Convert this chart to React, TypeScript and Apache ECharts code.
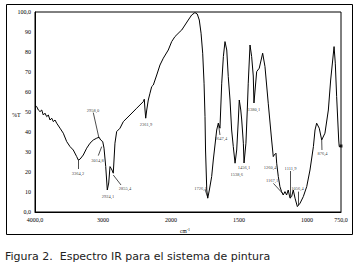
import { useEffect, useRef } from "react";
import * as echarts from "echarts";

// IR spectrum: wavenumber (cm-1) and transmittance (%T)
const waveNumbers = [
  4000, 3975, 3951, 3926, 3901, 3878, 3853, 3828, 3804, 3779,
  3754, 3731, 3706, 3681, 3632, 3584, 3534, 3485, 3437, 3387,
  3363, 3338, 3290, 3240, 3191, 3143, 3093, 3059, 3034, 3004,
  2985, 2960, 2937, 2916, 2897, 2882, 2868, 2849, 2824, 2799,
  2750, 2701, 2603, 2504, 2407, 2393, 2382, 2372, 2357, 2334,
  2309, 2284, 2260, 2210, 2162, 2113, 2040, 1995, 1971, 1934,
  1921, 1897, 1873, 1848, 1824, 1807, 1792, 1779, 1767, 1757,
  1750, 1746, 1737, 1730, 1718, 1701, 1689, 1664, 1652, 1640,
  1627, 1615, 1603, 1590, 1579, 1566, 1554, 1542, 1529, 1517,
  1505, 1498, 1487, 1480, 1468, 1463, 1449, 1439, 1432, 1419,
  1407, 1395, 1390, 1370, 1351, 1326, 1309, 1285, 1260, 1248,
  1241, 1228, 1223, 1211, 1199, 1187, 1175, 1162, 1150, 1138,
  1125, 1113, 1101, 1088, 1071, 1051, 1027, 1002, 978, 953,
  941, 929, 910, 892, 868, 843, 826, 811, 801, 792,
  782, 767, 763, 750,
];
const transmittance = [
  53.5, 52.7, 51, 50.2, 51, 48.5, 49.4, 47.7, 48.5, 46,
  46.9, 45.2, 46, 44.4, 41.9, 39.4, 35.2, 32.7, 31, 27.7,
  26, 26.4, 28.5, 31.9, 34.4, 36, 36.9, 37.4, 36, 35.2,
  31.9, 22.7, 11, 14.5, 22.7, 21.9, 21, 19.4, 34.4, 40.2,
  41.9, 45.2, 48.5, 51.9, 55.2, 56.4, 51, 46.9, 51, 56,
  59.4, 62.7, 63.5, 68.5, 73.5, 76.9, 81, 85.2, 87.7, 90.2,
  91, 93.5, 96, 98.5, 99.7, 99, 96, 89.4, 79.4, 64.4,
  47.7, 31, 11, 6.9, 11, 17.7, 26, 41, 44.4, 41.9,
  64.4, 77.7, 85.2, 81, 67.7, 56, 41, 32.7, 24.4, 31,
  46, 56, 51, 46, 34.4, 24.5, 34.4, 51, 64.4, 83.5,
  77.7, 68, 54.5, 70.2, 71.9, 79.4, 72.7, 54.4, 36, 27.7,
  28.5, 29.4, 24.4, 17.7, 12.7, 10.2, 8.5, 10.2, 8.5, 11,
  6.9, 7.7, 11, 6.9, 2.7, 4.4, 7.7, 12.7, 21, 32.7,
  41, 44.4, 41.9, 36, 39.4, 51, 66, 76, 82.7, 74.4,
  57.7, 36, 32.7, 33,
];

// Axis ticks
const xTickWaves = [4000, 3000, 2000, 1500, 1000, 750];
const xTickLabels = ["4000,0", "3000", "2000", "1500", "1000", "750,0"];
const yTickValues = [0, 10, 20, 30, 40, 50, 60, 70, 80, 90, 100];
const yTickLabels = ["0,0", "10", "20", "30", "40", "50", "60", "70", "80", "90", "100,0"];

// Peak annotations (label text, label position in cm-1 / %T)
const peakTexts = [
  "3364,2", "2958,0", "3014,8", "2924,1", "2855,4", "2361,9", "1726,1", "1647,4",
  "1538,6", "1456,1", "1380,1", "1260,4", "1167,1", "1111,9", "1056,4", "876,4",
];
const peakLabelWave = [3368, 3147, 3081, 2926, 2676, 2368, 1783, 1632, 1517, 1463, 1390, 1272, 1257, 1121, 1070, 886];
const peakLabelT = [19.5, 51, 25.7, 8, 12, 44, 12, 36.7, 19, 22.5, 51.5, 22.2, 16, 21.8, 11.8, 29.5];

// Leader lines: from (wave, T) to (wave, T)
const leaderFromWave = [3368, 3143, 3069, 2849, 1750, 1652, 1247, 1120, 1068, 892];
const leaderFromT = [26, 49.7, 28.2, 18.5, 11.3, 44.4, 14.3, 20.5, 10.2, 36];
const leaderToWave = [3368, 3059, 3019, 2735, 1730, 1640, 1179, 1120, 1068, 890];
const leaderToT = [21.5, 36.9, 32.7, 13.5, 7.3, 38.5, 9.3, 7, 3.5, 31];

const captionText = "Figura 2.  Espectro IR para el sistema de pintura";

// Spectrometer x-scale: 4000-2000 compressed, 2000-750 expanded x2
function toAxis(v: number): number {
  return v >= 2000 ? 4000 - v : 2000 + (2000 - v) * 2;
}

export default function App() {
  const ref = useRef<HTMLDivElement>(null);

  useEffect(() => {
    if (!ref.current) return;
    const chart = echarts.init(ref.current, undefined, { renderer: "svg" });

    const lineData = waveNumbers.map((v, i) => [toAxis(v), transmittance[i]]);
    const last = lineData[lineData.length - 1];
    const annoData = peakTexts.map((t, i) => ({
      value: [toAxis(peakLabelWave[i]), peakLabelT[i]],
      name: t,
    }));
    const leaderData = leaderFromWave.map((v, i) => [
      { coord: [toAxis(v), leaderFromT[i]] },
      { coord: [toAxis(leaderToWave[i]), leaderToT[i]] },
    ]);

    const serif = "Liberation Serif";

    chart.setOption({
      animation: false,
      backgroundColor: "#fff",
      grid: {
        left: 35,
        right: 17,
        top: 12,
        bottom: 51,
        show: true,
        borderColor: "#000",
        borderWidth: 1,
        backgroundColor: "transparent",
      },
      graphic: [
        {
          type: "rect",
          shape: { x: 6.5, y: 4.5, width: 346, height: 230 },
          style: { fill: "none", stroke: "#000", lineWidth: 1 },
          silent: true,
        },
        {
          type: "text",
          left: 12,
          top: 112,
          style: { text: "%T", fontFamily: serif, fontSize: 6, fill: "#000" },
        },
        {
          type: "text",
          x: 5,
          y: 251,
          scaleX: 1.1,
          style: {
            text: captionText,
            fontFamily: "DejaVu Sans",
            fontSize: 10,
            fill: "#222",
            textAlign: "left",
            textVerticalAlign: "top",
          },
        },
      ],
      xAxis: {
        type: "value",
        min: 0,
        max: 4500,
        interval: 1000,
        name: "{a|cm}{b|-1}",
        nameLocation: "middle",
        nameGap: 14,
        nameTextStyle: {
          padding: [0, 6, 0, 0],
          rich: {
            a: { fontFamily: serif, fontSize: 5.5, color: "#000" },
            b: { fontFamily: serif, fontSize: 4, color: "#000", verticalAlign: "top", padding: [0, 0, 3, 0] },
          },
        },
        axisLine: { show: true, lineStyle: { color: "#000", width: 1 } },
        axisTick: { show: false },
        splitLine: { show: false },
        axisLabel: {
          show: true,
          showMaxLabel: true,
          showMinLabel: true,
          margin: 5,
          fontFamily: serif,
          fontSize: 6,
          color: "#000",
          formatter: (val: number) => {
            const i = xTickWaves.findIndex((w) => Math.abs(toAxis(w) - val) < 1e-6);
            return i >= 0 ? xTickLabels[i] : "";
          },
        },
      },
      yAxis: {
        type: "value",
        min: 0,
        max: 100,
        interval: 10,
        axisLine: { show: true, lineStyle: { color: "#000", width: 1 } },
        axisTick: { show: false },
        splitLine: { show: false },
        axisLabel: {
          margin: 4,
          fontFamily: serif,
          fontSize: 6,
          color: "#000",
          formatter: (val: number) => {
            const i = yTickValues.findIndex((y) => Math.abs(y - val) < 1e-6);
            return i >= 0 ? yTickLabels[i] : "";
          },
        },
      },
      series: [
        {
          type: "line",
          data: lineData,
          showSymbol: false,
          symbol: "none",
          lineStyle: { color: "#000", width: 1 },
          silent: true,
          z: 3,
        },
        {
          type: "scatter",
          data: [last],
          symbol: "rect",
          symbolSize: 3,
          itemStyle: { color: "#000" },
          silent: true,
          z: 4,
        },
        {
          type: "scatter",
          data: annoData,
          symbolSize: 0,
          silent: true,
          label: {
            show: true,
            position: "inside",
            formatter: (p: any) => p.name,
            fontFamily: serif,
            fontSize: 4.5,
            color: "#000",
          },
          markLine: {
            silent: true,
            symbol: "none",
            label: { show: false },
            lineStyle: { color: "#000", width: 0.7, type: "solid" },
            data: leaderData,
          },
          z: 5,
        },
      ],
    });

    return () => {
      chart.dispose();
    };
  }, []);

  return (
    <div
      style={{ position: "absolute", left: 0, top: 0, width: 358, height: 263, background: "#fff" }}
    >
      <div ref={ref} style={{ width: 358, height: 263 }} />
    </div>
  );
}
